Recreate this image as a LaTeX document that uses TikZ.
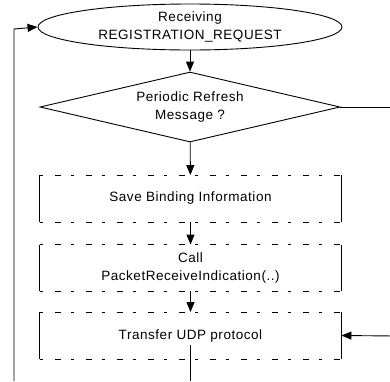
\documentclass[tikz,border=0pt]{standalone}
\usepackage{fontspec}
\setmainfont{Liberation Sans}[LetterSpace=4]
\usetikzlibrary{shapes.geometric,arrows.meta}
\begin{document}
\begin{tikzpicture}[x=1pt,y=-1pt,
  line width=0.9pt,
  every node/.style={font=\fontsize{13.5}{18}\selectfont, align=center},
  arr/.style={-{Triangle[length=10pt,width=8pt]}},
  procbox/.style={minimum width=301pt, minimum height=46pt, inner sep=0pt},
  edgedash/.style={line width=0.6pt, dash pattern=on 3pt off 12pt on 6pt off 10pt},
]
\useasboundingbox (0,0) rectangle (390,381);
\clip (0,0) rectangle (390,381);
\node[ellipse, draw, minimum width=304pt, minimum height=46pt, inner sep=0pt] (recv) at (190,27) {Receiving\\REGISTRATION\_REQUEST};
\node[diamond, draw, minimum width=300pt, minimum height=70pt, inner sep=0pt, aspect=4.3] (dec) at (190,107) {Periodic Refresh\\Message ?};
\node[procbox] (b1) at (190.5,198.5) {Save Binding Information};
\node[procbox] (b2) at (190.5,268) {Call\\PacketReceiveIndication(..)};
\node[procbox] (b3) at (190.5,335.5) {Transfer UDP protocol};
\foreach \b in {b1,b2,b3}{
  \draw (\b.north west) -- (\b.south west);
  \draw (\b.north east) -- (\b.south east);
  \draw[edgedash] (\b.north west) -- (\b.north east);
  \draw[edgedash] (\b.south west) -- (\b.south east);
}
\coordinate (lb) at (14,381);
\coordinate (lt) at (14,29);
\coordinate (rt) at (395,112);
\coordinate (rb) at (395,336);
\coordinate (t3) at (190,345);
\coordinate (bot) at (190,381);
\draw[arr] (recv) -- (dec);
\draw[arr] (dec) -- (b1);
\draw[arr] (b1) -- (b2);
\draw[arr] (b2) -- (b3);
\draw (t3) -- (bot);
\draw[arr] (lb) -- (lt) -- (recv.west);
\draw (dec.east) -- (dec.east -| rt);
\draw[arr] (rb) -- (b3.east);
\end{tikzpicture}
\end{document}
